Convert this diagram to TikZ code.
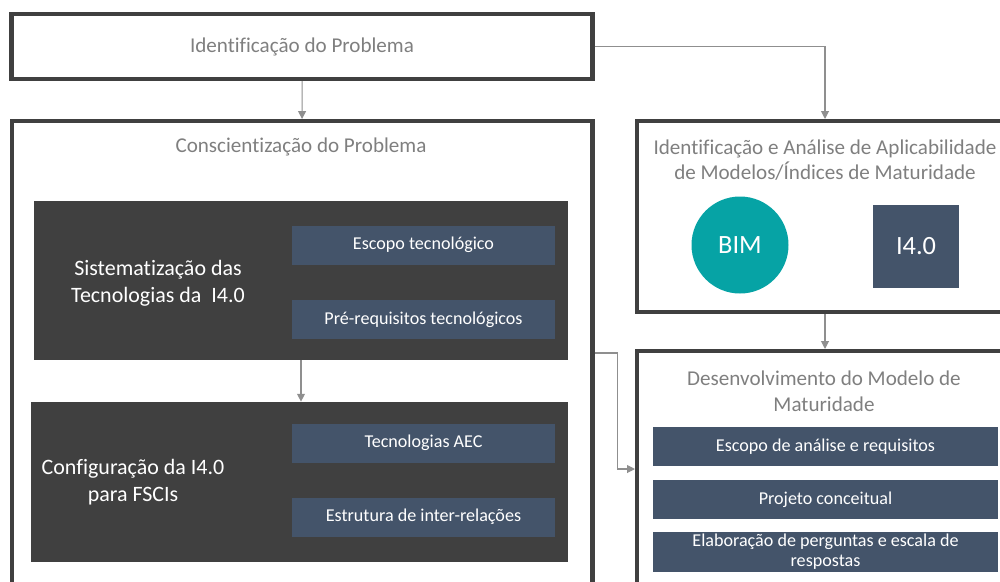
\documentclass[tikz,border=0pt]{standalone}
\usepackage{fontspec}
\setmainfont{Carlito}[Ligatures=NoCommon]
\usetikzlibrary{positioning, arrows.meta}
\definecolor{framegray}{HTML}{404040}
\definecolor{headgray}{HTML}{7F7F7F}
\definecolor{linegray}{HTML}{8F8F8F}
\definecolor{slate}{HTML}{44546A}
\definecolor{bimteal}{HTML}{06A3A5}

\begin{document}
\begin{tikzpicture}[
    frame/.style={draw=framegray, line width=2.3pt, rectangle, inner sep=0pt},
    headtxt/.style={text=headgray, font=\fontsize{12}{14.6}\selectfont, align=center},
    darkbox/.style={fill=framegray, rectangle, inner sep=0pt},
    darktxt/.style={text=white, font=\fontsize{12.5}{15.3}\selectfont, align=center},
    bluebox/.style={fill=slate, text=white, rectangle, inner sep=0pt, minimum height=0.78cm,
        font=\fontsize{10.3}{11.4}\selectfont, align=center},
    conn/.style={draw=linegray, line width=0.6pt, -{Triangle[length=4.5pt, width=4.5pt]}}]
\useasboundingbox (0,0) rectangle (20,-11.62);
\clip (0,0) rectangle (20,-11.62);

% left column
\node (ident) [frame, headtxt, minimum width=11.62cm, minimum height=1.30cm] at (6.04,-0.93)
    {Identificação do Problema};
\node (consc) [frame, minimum width=11.61cm, minimum height=9.28cm] at (6.045,-7.06) {};
\node (consctitle) [headtxt] at (6.02,-2.94) {Conscientização do Problema};

\node (sist) [darkbox, minimum width=10.68cm, minimum height=3.18cm] at (6.02,-5.61) {};
\node (sisttxt) [darktxt] at (3.16,-5.67) {Sistematização das\\Tecnologias da~~I4.0};
\node (escopo) [bluebox, minimum width=5.26cm] at (8.47,-4.9) {Escopo tecnológico};
\node (prereq) [bluebox, minimum width=5.26cm] at (8.47,-6.39) {Pré-requisitos tecnológicos};

\node (config) [darkbox, minimum width=10.74cm, minimum height=3.20cm] at (5.99,-9.64) {};
\node (configtxt) [darktxt] at (2.66,-9.65) {Configuração da I4.0\\para FSCIs};
\node (aec) [bluebox, minimum width=5.26cm] at (8.47,-8.86) {Tecnologias AEC};
\node (estrut) [bluebox, minimum width=5.26cm] at (8.47,-10.34) {Estrutura de inter-relações};

% right column
\node (analise) [frame, minimum width=7.52cm, minimum height=3.82cm] at (16.5,-4.33) {};
\node (analisetitle) [headtxt] at (16.5,-3.2)
    {Identificação e Análise de Aplicabilidade\\de Modelos/Índices de Maturidade};
\node (bim) [circle, fill=bimteal, text=white, minimum size=1.94cm, inner sep=0pt,
    font=\fontsize{15}{18}\selectfont] at (14.8,-4.9) {BIM};
\node (ifour) [fill=slate, text=white, minimum width=1.72cm, minimum height=1.66cm, inner sep=0pt,
    font=\fontsize{15}{18}\selectfont] at (18.32,-4.92) {I4.0};

\node (desenv) [frame, minimum width=7.52cm, minimum height=4.72cm] at (16.5,-9.38) {};
\node (desenvtitle) [headtxt] at (16.48,-7.82) {Desenvolvimento do Modelo de\\Maturidade};
\node (escanalise) [bluebox, minimum width=6.9cm] at (16.51,-8.93) {Escopo de análise e requisitos};
\node (projeto) [bluebox, minimum width=6.9cm] at (16.51,-9.99) {Projeto conceitual};
\node (perguntas) [bluebox, minimum width=6.9cm, minimum height=0.80cm] at (16.51,-11.04)
    {Elaboração de perguntas e escala de\\respostas};

% connectors
\draw[conn] (ident) -- (consc);
\draw[conn] (ident.east) -| (analise.north);
\draw[conn] (sist) -- (sist.south |- config.north);
\draw[conn] (analise) -- (desenv);
\draw[conn] (consc.east) -- ++(0.45,0) |- (desenv.west);
\end{tikzpicture}
\end{document}
